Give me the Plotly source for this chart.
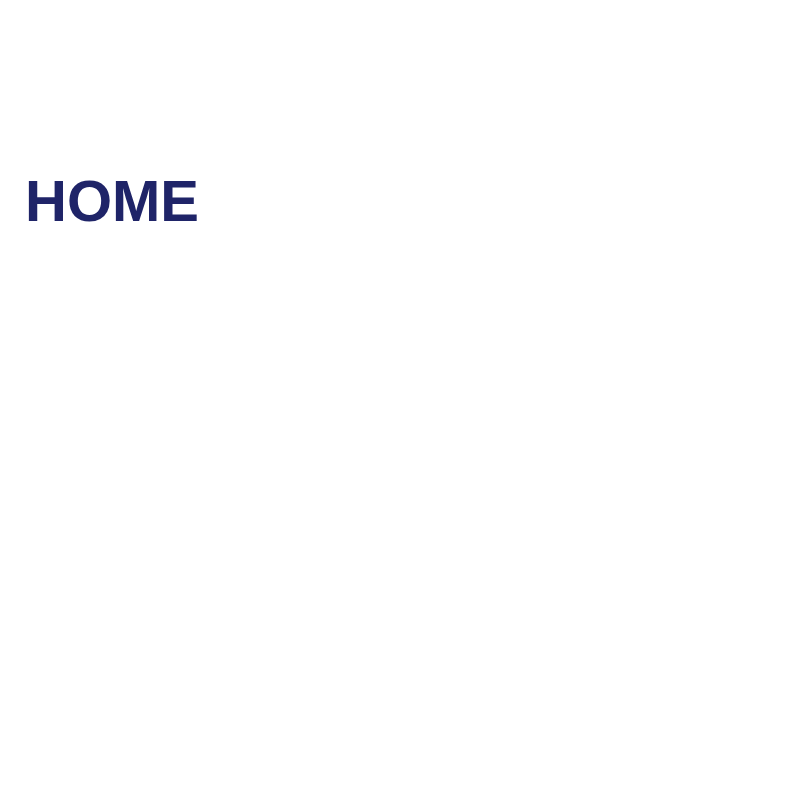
import plotly.graph_objects as go

# the whole chart is a single heading label
title_text = "HOME"
title_color = "#1f2468"

fig = go.Figure()

fig.add_annotation(
    text="<b>" + title_text + "</b>",
    xref="paper", yref="paper",
    x=15 / 796, y=1 - 193 / 805,
    xanchor="left", yanchor="middle",
    showarrow=False,
    font=dict(family="Liberation Sans, Arial, sans-serif", size=58, color=title_color),
)

fig.update_layout(
    width=796, height=805,
    margin=dict(l=0, r=0, t=0, b=0),
    paper_bgcolor="white", plot_bgcolor="white",
    xaxis=dict(visible=False), yaxis=dict(visible=False),
    showlegend=False,
)

fig.write_html("out.html")
